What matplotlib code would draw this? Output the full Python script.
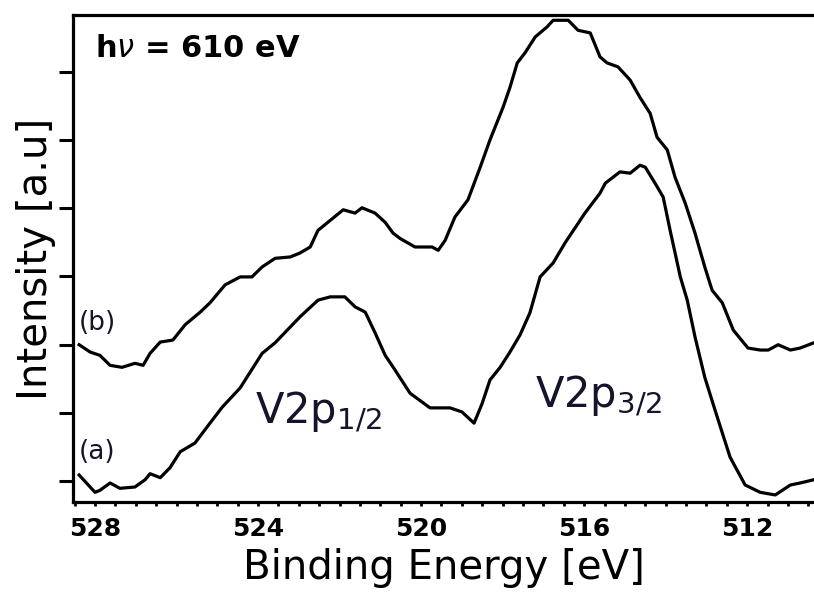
import numpy as np
import matplotlib
matplotlib.use("Agg")
import matplotlib.pyplot as plt

# Binding energy [eV] and intensity (arbitrary units)
energy_a = [528.39, 528.00, 527.88, 527.63, 527.39, 527.02, 526.77, 526.65, 526.40, 526.16,
            525.91, 525.55, 525.18, 524.88, 524.44, 523.90, 523.58, 522.97, 522.53, 522.23,
            521.87, 521.62, 521.37, 521.13, 520.88, 520.64, 520.27, 519.78, 519.29, 519.00,
            518.70, 518.50, 518.31, 518.06, 517.82, 517.57, 517.33, 517.08, 516.76, 516.47,
            515.98, 515.61, 515.48, 515.12, 514.87, 514.63, 514.50, 514.26, 514.06, 513.89,
            513.64, 513.47, 513.28, 513.04, 512.79, 512.42, 512.05, 511.68, 511.31, 510.94,
            510.70, 510.36]
intensity_a = [0.09, -0.17, -0.14, -0.03, -0.11, -0.09, 0.02, 0.11, 0.05, 0.20,
               0.44, 0.57, 0.87, 1.11, 1.40, 1.92, 2.08, 2.47, 2.72, 2.77,
               2.77, 2.62, 2.54, 2.23, 1.89, 1.67, 1.32, 1.10, 1.10, 1.04,
               0.87, 1.17, 1.52, 1.71, 1.94, 2.20, 2.53, 3.07, 3.28, 3.58,
               4.03, 4.33, 4.48, 4.65, 4.63, 4.75, 4.72, 4.48, 4.27, 3.77,
               3.07, 2.72, 2.17, 1.56, 1.07, 0.36, -0.06, -0.17, -0.21, -0.06,
               -0.03, 0.02]

energy_b = [528.39, 528.12, 527.88, 527.63, 527.34, 527.02, 526.82, 526.65, 526.40, 526.09,
            525.79, 525.42, 525.18, 524.81, 524.44, 524.15, 523.90, 523.58, 523.21, 522.97,
            522.72, 522.53, 522.23, 521.91, 521.62, 521.45, 521.13, 520.88, 520.69, 520.52,
            520.15, 519.73, 519.58, 519.41, 519.17, 518.85, 518.55, 518.31, 517.99, 517.82,
            517.64, 517.45, 517.20, 516.91, 516.76, 516.39, 516.15, 515.85, 515.61, 515.44,
            515.17, 514.87, 514.63, 514.38, 514.21, 513.96, 513.77, 513.52, 513.28, 513.04,
            512.86, 512.61, 512.34, 511.98, 511.68, 511.48, 511.24, 510.94, 510.70, 510.36]
intensity_b = [2.05, 1.94, 1.89, 1.74, 1.71, 1.77, 1.74, 1.92, 2.09, 2.12,
               2.35, 2.54, 2.68, 2.95, 3.07, 3.07, 3.22, 3.35, 3.37, 3.43,
               3.52, 3.77, 3.92, 4.08, 4.03, 4.11, 4.03, 3.89, 3.73, 3.65,
               3.52, 3.52, 3.47, 3.62, 3.97, 4.23, 4.72, 5.13, 5.62, 5.92,
               6.29, 6.44, 6.68, 6.83, 6.93, 6.93, 6.78, 6.74, 6.38, 6.29,
               6.23, 6.03, 5.77, 5.53, 5.17, 4.98, 4.57, 4.18, 3.73, 3.22,
               2.87, 2.68, 2.27, 2.00, 1.97, 1.97, 2.05, 1.97, 2.00, 2.08]

x_major = [528, 524, 520, 516, 512]
x_labels = ["528", "524", "520", "516", "512"]
y_tick_step = 1.0256
n_y_ticks = 7

text_color = "#14142b"

fig = plt.figure(figsize=(8.14, 5.92), dpi=100)
ax = fig.add_axes([0.0897, 0.152, 1.0 - 0.0897, 0.9747 - 0.152])

ax.plot(energy_a, intensity_a, color="black", lw=2.3)
ax.plot(energy_b, intensity_b, color="black", lw=2.3)

ax.set_xlim(528.54, 510.36)
ax.set_ylim(-0.316, 7.01)

ax.spines["right"].set_visible(False)
for s in ["left", "bottom", "top"]:
    ax.spines[s].set_linewidth(2.3)

ax.set_xticks(x_major)
ax.set_xticklabels(x_labels, fontsize=18, fontweight="bold")
ax.set_xticks(np.arange(510.5, 528.6, 0.5), minor=True)
ax.tick_params(axis="x", which="both", direction="out", length=3, width=2, pad=8)
ax.set_yticks(np.arange(n_y_ticks) * y_tick_step)
ax.set_yticklabels([])
ax.tick_params(axis="y", which="major", direction="out", length=10, width=2.2)

ax.set_xlabel("Binding Energy [eV]", fontsize=29, labelpad=5)
ax.set_ylabel("Intensity [a.u]", fontsize=29, labelpad=-1)

ax.text(0.03, 0.96, r"h$\nu$ = 610 eV", transform=ax.transAxes, fontsize=22,
        fontweight="bold", va="top", ha="left")
ax.text(528.40, 2.38, "(b)", fontsize=19, color=text_color, ha="left", va="center")
ax.text(528.40, 0.43, "(a)", fontsize=19, color=text_color, ha="left", va="center")
ax.text(524.07, 0.87, r"V2p$_\mathregular{1/2}$", fontsize=30, color=text_color,
        ha="left", va="baseline")
ax.text(517.20, 1.10, r"V2p$_\mathregular{3/2}$", fontsize=30, color=text_color,
        ha="left", va="baseline")

fig.savefig("out.png", dpi=100)
